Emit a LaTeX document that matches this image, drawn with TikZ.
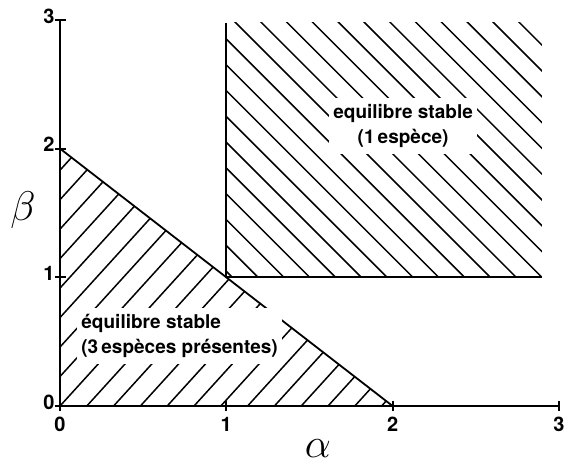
\documentclass[tikz,border=0pt]{standalone}
\usepackage{fontspec}
\newfontfamily\heros{TeX Gyre Heros}
\usetikzlibrary{calc}

\begin{document}
\begin{tikzpicture}[x=83.15pt,y=64.35pt,
    axis/.style={line width=1pt},
    edge/.style={line width=0.9pt},
    hatch/.style={line width=0.75pt},
    tickx/.style={anchor=north,inner sep=0pt,font=\heros\bfseries\fontsize{10}{12}\selectfont},
    ticky/.style={anchor=east,inner sep=0pt,font=\heros\bfseries\fontsize{10}{12}\selectfont},
    region/.style={fill=white,inner xsep=2pt,inner ysep=3pt,
      font=\heros\bfseries\fontsize{9.5}{12.5}\selectfont},
    greek/.style={font=\fontsize{20}{24}\selectfont}]
  \useasboundingbox (-0.3608,-0.4584) rectangle (3.0607,3.1546);
  \coordinate (O) at (0,0);
  \coordinate (xend) at (3,0);
  \coordinate (yend) at (0,3);
  \coordinate (A) at (2,0);
  \coordinate (B) at (0,2);
  \coordinate (C) at (1,1);
  \coordinate (D) at (2.898,1);
  \coordinate (E) at (1,2.976);
  \coordinate (F) at (2.898,2.976);
  % hatching, three species
  \begin{scope}
    \clip (O) -- (A) -- (B) -- cycle;
    \foreach \k in {-11,...,14}
      \draw[hatch] ($({13.4pt*(\k)},0)+(-150pt,-165pt)$) -- ++(300pt,330pt);
  \end{scope}
  % hatching, one species
  \begin{scope}
    \clip (C) rectangle (F);
    \foreach \m in {-14,...,24}
      \draw[hatch] ($(C)+(0,{3pt+12.9pt*(\m)})+(-170pt,170pt)$) -- ++(340pt,-340pt);
  \end{scope}
  % borders
  \draw[edge] (B) -- (A);
  \draw[edge] (E) -- (C) -- (D);
  % axes
  \draw[axis] (O) -- (xend);
  \draw[axis] (O) -- (yend);
  \foreach \t in {0,1,2,3} {
    \draw[axis] (\t,0) ++(0,-2.5pt) -- ++(0,5pt);
    \draw[axis] (0,\t) ++(-2.75pt,0) -- ++(5.5pt,0);
    \node[tickx] (x\t) at ($(\t,0)+(0,-5.5pt)$) {\t};
    \node[ticky] (y\t) at ($(0,\t)+(-2.5pt,2pt)$) {\t};
  }
  \node[greek] (alpha) at (1.551,-0.334) {$\alpha$};
  \node[greek] (beta) at (-0.2225,1.523) {$\beta$};
  % regions
  \node[region,align=center] (one) at (2.063,2.176) {equilibre stable\\(1\,espèce)};
  \node[region,align=left,anchor=west] (three) at (0.102,0.544)
    {équilibre stable\\(3\,espèces présentes)};
\end{tikzpicture}
\end{document}
